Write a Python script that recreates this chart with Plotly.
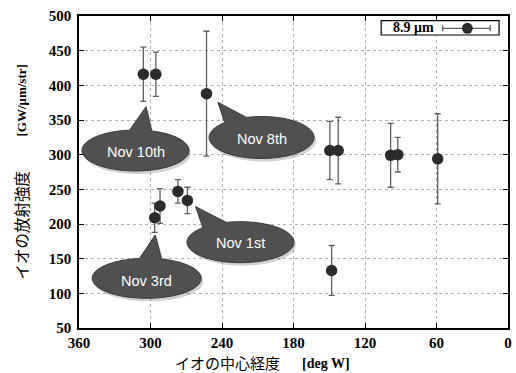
import numpy as np
import plotly.graph_objects as go

# ---- data ----
longitude = [306, 295.5, 253, 149.5, 142.5, 98.5, 92.5, 59, 277, 269, 148, 296.5, 292]
intensity = [416, 416, 388, 306, 306, 299, 300, 294, 247, 234, 133, 209, 226]
error = [39, 32, 90, 42, 48, 46, 25, 65, 17, 19, 36, 21, 25]
x_ticks = [360, 300, 240, 180, 120, 60, 0]
y_ticks = [50, 100, 150, 200, 250, 300, 350, 400, 450, 500]
series_name = "8.9 μm"
callout_labels = ["Nov 10th", "Nov 8th", "Nov 1st", "Nov 3rd"]

W, H = 516, 373
ML, MR, MT, MB = 79, 4, 16, 45
PW, PH = W - ML - MR, H - MT - MB


def px(x):
    return (x - ML) / PW


def py(y):
    return (H - MB - y) / PH


fig = go.Figure()
fig.add_trace(go.Scatter(
    x=longitude, y=intensity, mode="markers", name=series_name,
    marker=dict(size=11.5, color="#2b2b2b"),
    error_y=dict(type="data", array=error, visible=True, color="#5f5f5f",
                 thickness=1.3, width=3),
    showlegend=False, hoverinfo="skip",
))

serif = "Liberation Serif"
axis_common = dict(
    showline=True, linecolor="black", linewidth=1.5, mirror="ticks",
    ticks="inside", ticklen=5, tickcolor="black", tickwidth=1,
    showgrid=True, gridcolor="#b0b0b0", griddash="dot", gridwidth=1,
    zeroline=False,
    tickfont=dict(family=serif, size=15, color="black", weight="bold"),
)
fig.update_xaxes(range=[360, 0], tickvals=x_ticks, ticklabelstandoff=0, **axis_common)
fig.update_yaxes(range=[50, 500], tickvals=y_ticks, ticklabelstandoff=3, **axis_common)

shapes = []
annotations = []

# callouts (pixel geometry): center, rx, ry, tip, base-x pair, text center
callouts = [
    ((136, 150.5), 54, 20.5, (146.7, 106.7), (130, 152.3), (136.5, 152)),
    ((263.3, 137.5), 53, 21, (219.3, 102.3), (226, 248), (264, 139)),
    ((242, 242.2), 54, 20.5, (196.7, 206.7), (204, 228), (241.7, 243.3)),
    ((147.3, 278.3), 55, 20, (156, 235), (140, 162.3), (146.7, 281)),
]


def callout_path(c, rx, ry, tip, base, dx=0.0, dy=0.0):
    cx, cy = c
    t1 = -np.arccos(np.clip((base[0] - cx) / rx, -1, 1))
    t2 = -np.arccos(np.clip((base[1] - cx) / rx, -1, 1))
    ta, tb = max(t1, t2), min(t1, t2)
    ts = np.linspace(ta, tb + 2 * np.pi, 80)
    pts = [(cx + rx * np.cos(t), cy + ry * np.sin(t)) for t in ts]
    pts.append(tip)
    d = "M " + " L ".join(f"{px(x + dx):.5f},{py(y + dy):.5f}" for x, y in pts) + " Z"
    return d


for (c, rx, ry, tip, base, tc), label in zip(callouts, callout_labels):
    shapes.append(dict(type="path", xref="paper", yref="paper",
                       path=callout_path(c, rx, ry, tip, base, 2, 3),
                       fillcolor="rgba(0,0,0,0.18)", line=dict(width=0), layer="above"))
    shapes.append(dict(type="path", xref="paper", yref="paper",
                       path=callout_path(c, rx, ry, tip, base),
                       fillcolor="#505050", line=dict(color="#3a3a3a", width=1), layer="above"))
    annotations.append(dict(xref="paper", yref="paper", x=px(tc[0]), y=py(tc[1]),
                            text=label, showarrow=False, xanchor="center", yanchor="middle",
                            font=dict(family="Liberation Sans", size=14.5, color="white")))

# legend box (manual, text before the symbol)
shapes.append(dict(type="rect", xref="paper", yref="paper",
                   x0=px(384), x1=px(503), y0=py(35), y1=py(20.7),
                   fillcolor="white", line=dict(color="black", width=1.2), layer="above"))
ly = 28.3
shapes.append(dict(type="line", xref="paper", yref="paper", x0=px(446), x1=px(494),
                   y0=py(ly), y1=py(ly), line=dict(color="#5f5f5f", width=1.3), layer="above"))
for xc in (446, 494):
    shapes.append(dict(type="line", xref="paper", yref="paper", x0=px(xc), x1=px(xc),
                       y0=py(ly - 3), y1=py(ly + 3), line=dict(color="#5f5f5f", width=1.3), layer="above"))
shapes.append(dict(type="circle", xref="paper", yref="paper",
                   x0=px(471 - 5.5), x1=px(471 + 5.5), y0=py(ly + 5.5), y1=py(ly - 5.5),
                   fillcolor="#2b2b2b", line=dict(width=0), layer="above"))
annotations.append(dict(xref="paper", yref="paper", x=px(417), y=py(28), text=series_name,
                        showarrow=False, xanchor="center", yanchor="middle",
                        font=dict(family=serif, size=14, color="black", weight="bold")))

# axis titles
jp = "Noto Sans CJK JP"
annotations.append(dict(xref="paper", yref="paper", x=px(229), y=py(362.5), text="イオの中心経度",
                        showarrow=False, xanchor="center", yanchor="middle",
                        font=dict(family=jp, size=15, color="black")))
annotations.append(dict(xref="paper", yref="paper", x=px(328), y=py(363), text="[deg W]",
                        showarrow=False, xanchor="center", yanchor="middle",
                        font=dict(family=serif, size=14, color="black", weight="bold")))
annotations.append(dict(xref="paper", yref="paper", x=px(20), y=py(225), text="イオの放射強度",
                        showarrow=False, xanchor="center", yanchor="middle", textangle=-90,
                        font=dict(family=jp, size=15.5, color="black")))
annotations.append(dict(xref="paper", yref="paper", x=px(20), y=py(101), text="[GW/μm/str]",
                        showarrow=False, xanchor="center", yanchor="middle", textangle=-90,
                        font=dict(family=serif, size=13, color="black", weight="bold")))

fig.update_layout(
    width=W, height=H,
    margin=dict(l=ML, r=MR, t=MT, b=MB),
    plot_bgcolor="white", paper_bgcolor="white",
    shapes=shapes, annotations=annotations,
    showlegend=False, hovermode=False,
)

fig.write_html("out.html", config={"displayModeBar": False},
               post_script="document.body.style.margin='0';document.body.style.overflow='hidden';")
